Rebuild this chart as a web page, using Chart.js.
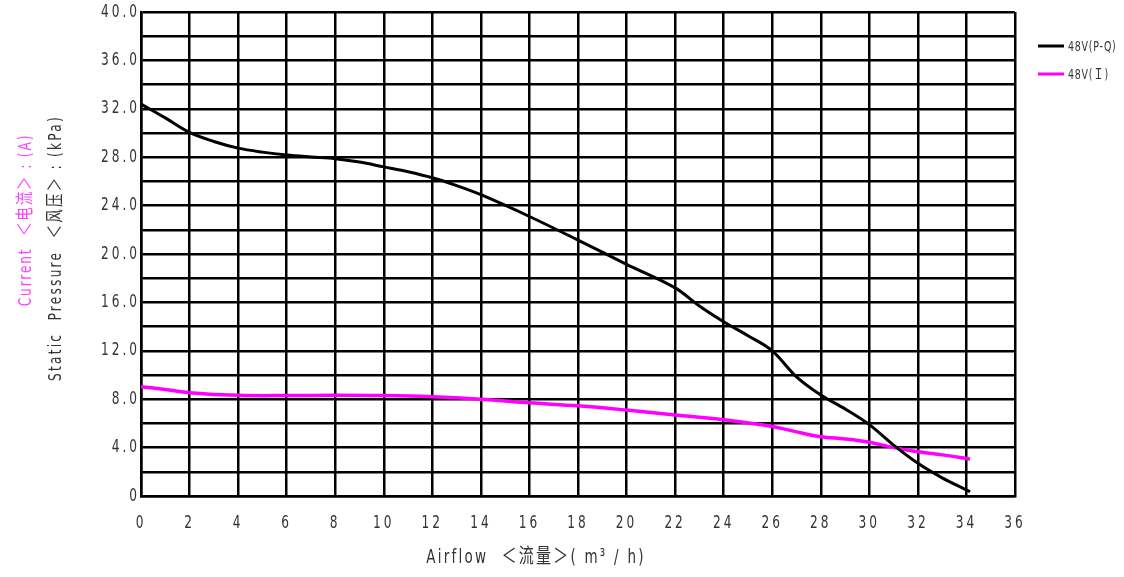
<!DOCTYPE html>
<html><head><meta charset="utf-8">
<script src="https://cdn.jsdelivr.net/npm/chart.js@4"></script>
<style>html,body{margin:0;padding:0;background:#fff}#wrap{width:1124px;height:577px;position:relative}</style>
</head><body><div id="wrap"><canvas id="c"></canvas></div>
<script>
// ---- data ----
const airflowPQ = [0,1,2,3,4,5,6,7,8,9,10,11,12,13,14,16,18,20,22,23,24,25,26,27,28,29,30,31,32,33,34,34.15];
const pressurePQ = [32.4,31.25,30.05,29.3,28.75,28.42,28.18,28.02,27.88,27.6,27.2,26.8,26.3,25.65,24.9,23.1,21.15,19.15,17.2,15.7,14.4,13.25,12.0,9.85,8.35,7.2,5.9,4.2,2.7,1.5,0.5,0.35];
const airflowI = [0,1,2,4,6,8,10,12,14,16,18,20,22,24,26,27,28,29,30,31,32,33,34,34.15];
const currentI = [9.04,8.8,8.54,8.32,8.3,8.32,8.3,8.2,8.0,7.7,7.45,7.1,6.7,6.3,5.75,5.3,4.9,4.72,4.45,4.0,3.65,3.4,3.1,3.05];
const seriesLabels = ['48V(P-Q)','48V(Ｉ)'];
const xTitle = 'Airflow  ＜流量＞( m³ / h)';
const yTitlePressure = 'Static  Pressure  ＜风压＞ : (kPa)';
const yTitleCurrent = 'Current  ＜电流＞ : (A)';

const FONT = "'DejaVu Sans Condensed','Noto Sans CJK SC',sans-serif";
const TXT = '#333333';
const PINK = '#ff00ff';
const SX = 0.75; // horizontal text compression (narrow CAD-like font)

function pts(xs, ys){ return xs.map((x,i)=>({x:x,y:ys[i]})); }

const canvas = document.getElementById('c');
const cx = canvas.getContext('2d');
const origFill = cx.fillText.bind(cx);
cx.fillText = function(t, x, y){
  this.save(); this.translate(x, y); this.scale(SX, 1); origFill(t, 0, 0); this.restore();
};

const spacing = {
  id:'spacing',
  beforeUpdate(chart){ chart.ctx.letterSpacing='4px'; },
  beforeDraw(chart){ chart.ctx.letterSpacing='4px'; }
};

const extras = {
  id:'extras',
  afterDraw(chart){
    const ctx = chart.ctx;
    ctx.save();
    // x title
    ctx.letterSpacing='3px';
    ctx.fillStyle=TXT;
    ctx.font = "20px "+FONT;
    ctx.textAlign='center'; ctx.textBaseline='middle';
    ctx.fillText(xTitle, 536, 558);
    // y titles rotated
    ctx.font = "18px "+FONT;
    ctx.save();
    ctx.translate(56, 248); ctx.rotate(-Math.PI/2);
    ctx.fillStyle=TXT; ctx.fillText(yTitlePressure,0,0);
    ctx.restore();
    ctx.letterSpacing='2.5px';
    ctx.save();
    ctx.translate(26, 220); ctx.rotate(-Math.PI/2);
    ctx.fillStyle='#ff40ff'; ctx.fillText(yTitleCurrent,0,0);
    ctx.restore();
    // legend
    ctx.letterSpacing='1px';
    ctx.textAlign='left';
    ctx.font = "14px "+FONT;
    chart.data.datasets.forEach((ds,i)=>{
      const y = 46 + i*28;
      ctx.strokeStyle = ds.borderColor; ctx.lineWidth = 3;
      ctx.beginPath(); ctx.moveTo(1038,y); ctx.lineTo(1064,y); ctx.stroke();
      ctx.fillStyle = TXT;
      ctx.fillText(ds.label, 1068, y+1);
    });
    ctx.restore();
  }
};

new Chart(canvas, {
  type:'scatter',
  data:{ datasets:[
    {label:seriesLabels[0], data:pts(airflowPQ,pressurePQ), showLine:true, borderColor:'#000', backgroundColor:'#000', borderWidth:3, pointRadius:0, tension:0.35},
    {label:seriesLabels[1], data:pts(airflowI,currentI), showLine:true, borderColor:PINK, backgroundColor:PINK, borderWidth:3.5, pointRadius:0, tension:0.35}
  ]},
  options:{
    responsive:true, maintainAspectRatio:false, animation:false,
    devicePixelRatio:1,
    layout:{padding:{left:0,right:109,top:12,bottom:0}},
    plugins:{legend:{display:false}, tooltip:{enabled:false}},
    scales:{
      x:{type:'linear', min:0, max:36,
        afterFit(s){ s.height = 81; },
        ticks:{stepSize:2, color:TXT, padding:17, maxRotation:0, autoSkip:false, font:{family:FONT, size:18}},
        grid:{color:'#000', lineWidth:2.5, drawTicks:false},
        border:{color:'#000', width:2.5}
      },
      y:{type:'linear', min:0, max:40,
        afterFit(s){ s.width = 141; },
        ticks:{stepSize:2, color:TXT, padding:1, autoSkip:false, font:{family:FONT, size:18},
          callback:(v)=> v===0 ? '0' : (v%4===0 ? v.toFixed(1) : '')},
        grid:{color:'#000', lineWidth:2.5, drawTicks:false},
        border:{color:'#000', width:2.5}
      }
    }
  },
  plugins:[spacing, extras]
});
</script></body></html>
